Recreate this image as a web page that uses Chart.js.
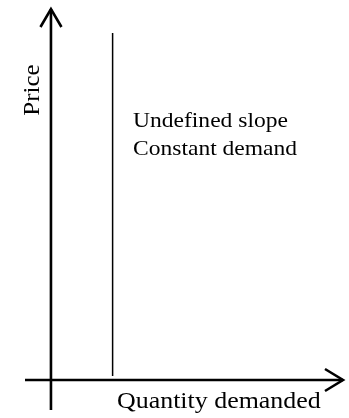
<!DOCTYPE html>
<html>
<head>
<meta charset="utf-8">
<script src="https://cdn.jsdelivr.net/npm/chart.js@4.4.1/dist/chart.umd.min.js"></script>
<style>
html, body { margin: 0; padding: 0; background: #fff; }
#box { width: 349px; height: 418px; }
</style>
</head>
<body>
<div id="box"><canvas id="grafik"></canvas></div>
<script>
// demand curve: same quantity at every price
var demandQty = [1.9, 1.9];
var demandPrice = [0.13, 11.57];
// axis extents (quantity, price)
var qtyAxis = [-0.8, 9];
var priceAxis = [-1, 12.37];
var noteLines = ["Undefined slope", "Constant demand"];
var xTitle = "Quantity demanded";
var yTitle = "Price";

function pts(xs, ys) {
    var out = [];
    for (var i = 0; i < xs.length; i++) out.push({x: xs[i], y: ys[i]});
    return out;
}

var FONT = "'Liberation Serif', 'Times New Roman', serif";

// text a bit wider than the font, like the picture
function yaz(ctx, txt, x, y, sx) {
    ctx.save();
    ctx.translate(x, y);
    ctx.scale(sx, 1);
    ctx.fillText(txt, 0, 0);
    ctx.restore();
}

// arrow heads + texts
var oklar = {
    id: 'oklar',
    afterDatasetsDraw: function (chart) {
        var ctx = chart.ctx;
        ctx.save();
        ctx.strokeStyle = '#000';
        ctx.lineWidth = 2.6;
        ctx.lineCap = 'butt';
        ctx.lineJoin = 'miter';

        // x axis tip
        var mx = chart.getDatasetMeta(0).data;
        var tx = mx[mx.length - 1];
        ctx.beginPath();
        ctx.moveTo(tx.x - 18, tx.y - 11);
        ctx.lineTo(tx.x, tx.y);
        ctx.lineTo(tx.x - 18, tx.y + 11);
        ctx.stroke();

        // y axis tip
        var my = chart.getDatasetMeta(1).data;
        var ty = my[my.length - 1];
        ctx.beginPath();
        ctx.moveTo(ty.x - 10.5, ty.y + 18);
        ctx.lineTo(ty.x, ty.y);
        ctx.lineTo(ty.x + 10.5, ty.y + 18);
        ctx.stroke();

        ctx.fillStyle = '#000';
        ctx.textBaseline = 'alphabetic';
        ctx.textAlign = 'left';

        ctx.font = '22px ' + FONT;
        for (var i = 0; i < noteLines.length; i++) {
            yaz(ctx, noteLines[i], 133, 126.5 + i * 28.5, 1.07);
        }

        ctx.font = '24px ' + FONT;
        yaz(ctx, xTitle, 117, 408, 1.08);

        ctx.save();
        ctx.translate(39, 90);
        ctx.rotate(-Math.PI / 2);
        ctx.textAlign = 'center';
        yaz(ctx, yTitle, 0, 0, 1.04);
        ctx.restore();

        ctx.restore();
    }
};

var grafik = new Chart(document.getElementById('grafik').getContext('2d'), {
    type: 'scatter',
    data: {
        datasets: [
            {
                label: 'x',
                data: pts(qtyAxis, [0, 0]),
                showLine: true,
                borderColor: '#000',
                borderWidth: 2.6,
                pointRadius: 0
            },
            {
                label: 'y',
                data: pts([0, 0], priceAxis),
                showLine: true,
                borderColor: '#000',
                borderWidth: 2.6,
                pointRadius: 0
            },
            {
                label: 'demand',
                data: pts(demandQty, demandPrice),
                showLine: true,
                borderColor: '#000',
                borderWidth: 1.5,
                pointRadius: 0
            }
        ]
    },
    options: {
        responsive: true,
        maintainAspectRatio: false,
        animation: false,
        layout: { padding: { left: 25, right: 6, top: 9, bottom: 8 } },
        plugins: { legend: { display: false }, tooltip: { enabled: false } },
        scales: {
            x: { type: 'linear', display: false, min: qtyAxis[0], max: qtyAxis[1] },
            y: { type: 'linear', display: false, min: priceAxis[0], max: priceAxis[1] }
        }
    },
    plugins: [oklar]
});
</script>
</body>
</html>
